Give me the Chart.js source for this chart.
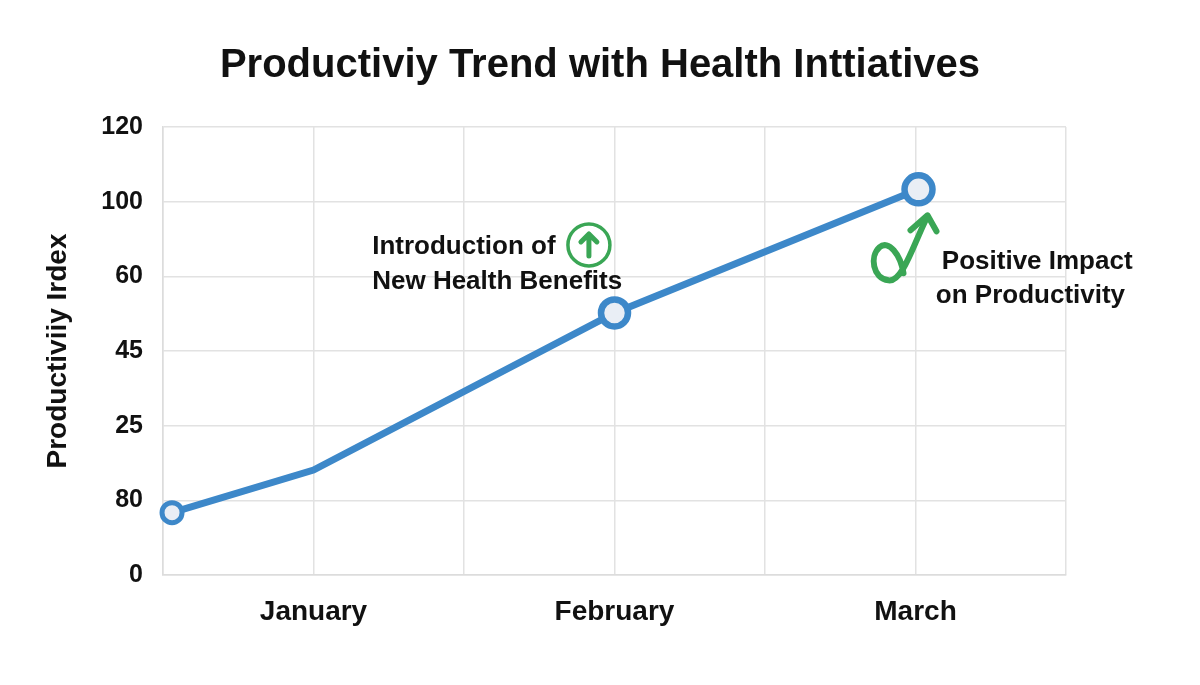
<!DOCTYPE html>
<html>
<head>
<meta charset="utf-8">
<title>Productivity Trend</title>
<script src="https://cdn.jsdelivr.net/npm/chart.js@4.4.1/dist/chart.umd.min.js"></script>
<style>
  body { margin: 0; background: #fff; }
  #wrap { width: 1200px; height: 685px; }
</style>
</head>
<body>
<div id="wrap"><canvas id="linechart" width="1200" height="685"></canvas></div>
<script>
// chart values
var xTickLabels = ['', 'January', '', 'February', '', 'March', ''];
var yTickLabels = ['0', '80', '25', '45', '60', '100', '120'];
var pointX = [0.06, 1, 3, 5.02];
var pointY = [16.7, 28.1, 70.2, 103.3];

var noteBenefits = ['Introduction of', 'New Health Benefits'];
var noteImpact = ['Positive Impact', 'on Productivity'];

var FONT = "'Liberation Sans', Arial, sans-serif";
var GREEN = '#3aa655';

var points = pointX.map(function (x, i) {
  return { x: x, y: pointY[i] };
});

// text + green icons drawn on top of the chart, placed through the scales
var notesPlugin = {
  id: 'notes',
  afterDraw: function (chart) {
    var ctx = chart.ctx;
    var xs = chart.scales.x, ys = chart.scales.y;
    function px(x, y) { return [xs.getPixelForValue(x), ys.getPixelForValue(y)]; }

    ctx.save();
    ctx.fillStyle = '#111';
    ctx.font = 'bold 26px ' + FONT;
    ctx.textAlign = 'left';
    ctx.textBaseline = 'middle';

    var a = px(1.39, 88);
    noteBenefits.forEach(function (t, i) { ctx.fillText(t, a[0], a[1] + i * 35); });

    var b = px(5.175, 83.8);
    ctx.fillText(noteImpact[0], b[0], b[1]);
    ctx.fillText(noteImpact[1], b[0] - 6, b[1] + 34);

    ctx.strokeStyle = GREEN;
    ctx.lineCap = 'round';
    ctx.lineJoin = 'round';

    // circled up arrow
    var c = px(2.83, 88.4);
    ctx.lineWidth = 3.5;
    ctx.beginPath();
    ctx.arc(c[0], c[1], 21, 0, Math.PI * 2);
    ctx.stroke();
    ctx.lineWidth = 5;
    ctx.beginPath();
    ctx.moveTo(c[0], c[1] + 11);
    ctx.lineTo(c[0], c[1] - 11);
    ctx.moveTo(c[0] - 8, c[1] - 3);
    ctx.lineTo(c[0], c[1] - 11);
    ctx.lineTo(c[0] + 8, c[1] - 3);
    ctx.stroke();

    // looping arrow under March
    var s = px(5, 80);
    var ox = s[0], oy = s[1];
    ctx.lineWidth = 6;
    ctx.beginPath();
    ctx.moveTo(ox - 12, oy - 3);
    ctx.bezierCurveTo(ox - 15, oy - 22, ox - 27, oy - 37, ox - 36, oy - 29);
    ctx.bezierCurveTo(ox - 46, oy - 20, ox - 43, oy + 2, ox - 27, oy + 4);
    ctx.bezierCurveTo(ox - 13, oy + 6, ox - 2, oy - 32, ox + 11, oy - 58);
    ctx.stroke();
    ctx.beginPath();
    ctx.moveTo(ox - 5, oy - 46);
    ctx.lineTo(ox + 12, oy - 61);
    ctx.lineTo(ox + 21, oy - 45);
    ctx.stroke();
    ctx.restore();
  }
};

var chart = new Chart(document.getElementById('linechart'), {
  type: 'line',
  data: {
    datasets: [{
      data: points,
      borderColor: '#3d88c9',
      borderWidth: 7,
      pointBackgroundColor: '#e9eef5',
      pointBorderColor: '#3d88c9',
      pointRadius: [10, 0, 13.5, 14],
      pointBorderWidth: [5, 0, 6.5, 6.5],
      tension: 0,
      clip: false
    }]
  },
  plugins: [notesPlugin],
  options: {
    responsive: false,
    animation: false,
    devicePixelRatio: 1,
    layout: { padding: 0 },
    plugins: {
      legend: { display: false },
      tooltip: { enabled: false },
      title: {
        display: true,
        text: 'Productiviy Trend with Health Inttiatives',
        color: '#111',
        font: { family: FONT, size: 40, weight: 'bold' },
        padding: { top: 42, bottom: 37 }
      }
    },
    scales: {
      x: {
        type: 'linear',
        min: 0,
        max: 6,
        afterFit: function (scale) { scale.height = 110; },
        grid: { color: '#e2e2e2', lineWidth: 1.5, drawTicks: false },
        border: { color: '#dcdcdc', width: 1.5 },
        ticks: {
          stepSize: 1,
          autoSkip: false,
          maxRotation: 0,
          padding: 20,
          color: '#111',
          font: { family: FONT, size: 28, weight: 'bold' },
          callback: function (v) { return xTickLabels[v]; }
        }
      },
      y: {
        min: 0,
        max: 120,
        afterFit: function (scale) { scale.width = 163; },
        grid: { color: '#e2e2e2', lineWidth: 1.5, drawTicks: false },
        border: { color: '#dcdcdc', width: 1.5 },
        ticks: {
          stepSize: 20,
          padding: 20,
          color: '#111',
          font: { family: FONT, size: 25, weight: 'bold' },
          callback: function (v) { return yTickLabels[v / 20]; }
        },
        title: {
          display: true,
          text: 'Productiviiy Irdex',
          color: '#111',
          font: { family: FONT, size: 28, weight: 'bold' },
          padding: { top: 41, bottom: 0 }
        }
      },
      // empty right axis that only keeps the margin on the right
      yRight: {
        position: 'right',
        min: 0,
        max: 120,
        afterFit: function (scale) { scale.width = 134; },
        grid: { display: false },
        border: { display: false },
        ticks: { display: false }
      }
    }
  }
});
</script>
</body>
</html>
